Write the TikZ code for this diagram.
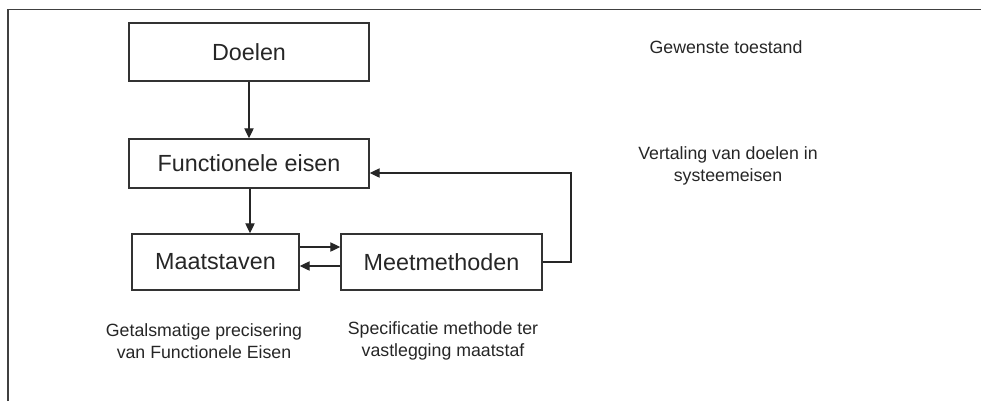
\documentclass[tikz,border=0pt]{standalone}
\usepackage{fontspec}
\setmainfont{Liberation Sans}
\usetikzlibrary{arrows.meta}

\tikzset{
    blok/.style={draw=black!80,line width=1.1pt,minimum height=#1,inner sep=0pt,
        text=black!85,font=\fontsize{17.5}{21}\selectfont},
    uitleg/.style={align=center,text=black!85,inner sep=0pt,
        font=\fontsize{13.3}{16.5}\selectfont},
    pijl/.style={draw=black!85,line width=0.9pt,-{Triangle[length=7.5pt,width=7pt]}}
}

\begin{document}
\begin{tikzpicture}[x=0.75pt,y=-0.75pt]
    \useasboundingbox (0,0) rectangle (981,401);
    % kader
    \draw[black!75,line width=1.2pt] (8,401)--(8,9.5)--(981,9.5);

    % blokken
    \node[blok=58*0.75pt,minimum width=240*0.75pt] (doelen) at (249,52) {Doelen};
    \node[blok=49*0.75pt,minimum width=240*0.75pt] (func) at (249,163.5) {Functionele eisen};
    \node[blok=56*0.75pt,minimum width=167*0.75pt] (maat) at (215.5,262) {Maatstaven};
    \node[blok=56*0.75pt,minimum width=201*0.75pt] (meet) at (441.5,262) {Meetmethoden};

    % pijlen
    \draw[pijl] (doelen.south) -- (func.north);
    \draw[pijl] (func.south -| 250,0) -- (maat.north -| 250,0);
    \draw[pijl] (maat.east |- 0,247) -- (meet.west |- 0,247);
    \draw[pijl] (meet.west |- 0,266) -- (maat.east |- 0,266);
    \coordinate (terug) at (571,262);
    \draw[pijl] (meet.east) -- (terug) |- (func.east |- 0,173);

    % toelichting
    \node[uitleg] (gewenst) at (726,47) {Gewenste toestand};
    \node[uitleg] (vertaling) at (728,166) {Vertaling van doelen in\\systeemeisen};
    \node[uitleg] (getal) at (204,341) {Getalsmatige precisering\\van Functionele Eisen};
    \node[uitleg] (spec) at (443,341) {Specificatie methode ter\\vastlegging maatstaf};
\end{tikzpicture}
\end{document}
